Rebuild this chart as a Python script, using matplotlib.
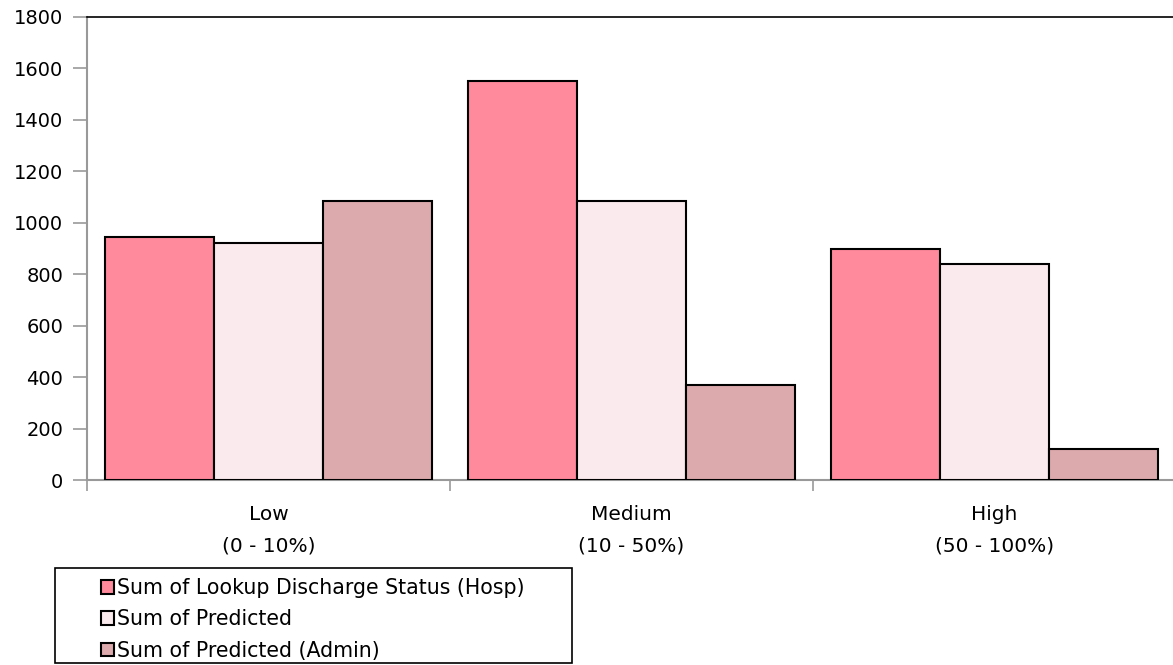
import numpy as np
import matplotlib.pyplot as plt
from matplotlib.patches import Rectangle

categories = ['Low\n(0 - 10%)', 'Medium\n(10 - 50%)', 'High\n(50 - 100%)']
series_names = ['Sum of Lookup Discharge Status (Hosp)', 'Sum of Predicted', 'Sum of Predicted (Admin)']
hosp = [945, 1551, 898]
predicted = [921, 1085, 840]
admin = [1085, 369, 120]
colors = ['#FF8A9C', '#FAEAEE', '#DCAAAD']

plt.rcParams['font.family'] = ['DejaVu Sans']

fig = plt.figure(figsize=(11.73, 6.65), dpi=100)
W, H = 1173, 665
# plot area runs a bit past the right edge of the figure
ax = fig.add_axes([87 / W, 1 - 480 / H, (1176 - 87) / W, (480 - 17) / H])

x = np.arange(len(categories))
bw = 0.3
handles = []
for i, (vals, name) in enumerate(zip([hosp, predicted, admin], series_names)):
    b = ax.bar(x + (i - 1) * bw, vals, bw, color=colors[i], edgecolor='black',
               linewidth=1.5, label=name, zorder=3)
    handles.append(b)

ax.set_xlim(-0.5, 2.5)
ax.set_ylim(0, 1800)
ax.set_yticks(range(0, 1801, 200))
ax.set_xticks(x)
ax.set_xticklabels(categories, fontsize=14.5, linespacing=1.8)
ax.set_xticks(np.arange(-0.5, 3, 1), minor=True)
ax.tick_params(axis='x', which='major', length=0, pad=18)
ax.tick_params(axis='x', which='minor', length=8, color='#999999', width=1.2)
ax.tick_params(axis='y', length=10, color='#999999', width=1.2, labelsize=14, pad=7)

for s in ['left', 'bottom']:
    ax.spines[s].set_color('#999999')
    ax.spines[s].set_linewidth(1.5)
ax.spines['top'].set_color('black')
ax.spines['top'].set_linewidth(1.2)
ax.spines['right'].set_visible(False)

# legend box below the chart
fig.patches.append(Rectangle((55 / W, 1 - 663 / H), (572 - 55) / W, (663 - 568) / H,
                             transform=fig.transFigure, fill=False,
                             edgecolor='black', linewidth=1.2))
fig.legend(handles, series_names, loc='upper left', bbox_to_anchor=(101 / W, 1 - 578 / H),
           frameon=False, fontsize=14.8, handlelength=0.65, handleheight=0.65,
           handletextpad=0.12, labelspacing=0.55, borderpad=0, borderaxespad=0)

fig.savefig('out.png', dpi=100)
